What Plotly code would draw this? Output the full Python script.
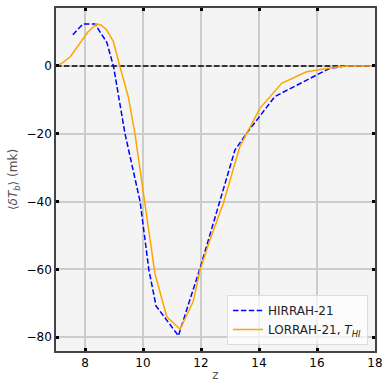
import plotly.graph_objects as go

hir_z = [7.58, 7.93, 8.34, 8.75, 8.98, 9.38, 9.9, 10.2, 10.45, 11.22, 11.97, 12.66, 13.17, 13.57, 14.55, 15.99, 16.45, 17.0, 18.0]
hir_t = [9.2, 12.4, 12.4, 7.0, 0.0, -20.0, -40.0, -60.0, -70.8, -79.6, -59.6, -39.5, -24.8, -19.9, -9.0, -2.65, -0.7, 0.0, 0.0]

lor_z = [7.0, 7.2, 7.5, 7.8, 8.1, 8.4, 8.55, 8.75, 8.98, 9.2, 9.49, 9.72, 10.0, 10.41, 10.82, 11.28, 11.73, 11.97, 12.31, 12.77, 13.34, 14.03, 14.78, 15.64, 16.5, 17.0, 18.0]
lor_t = [0.0, 0.8, 2.8, 6.3, 10.0, 12.4, 12.1, 10.6, 7.2, 0.0, -9.0, -19.9, -37.0, -61.2, -74.0, -77.7, -69.5, -60.2, -51.3, -40.5, -23.8, -12.5, -5.1, -1.7, -0.5, 0.0, 0.0]

x_ticks = [8, 10, 12, 14, 16, 18]
y_ticks = [0, -20, -40, -60, -80]

fig = go.Figure()
fig.add_trace(go.Scatter(x=[7, 18], y=[0, 0], mode="lines",
                         line=dict(color="black", width=1.5, dash="5.5px,2.4px"),
                         showlegend=False, hoverinfo="skip"))
fig.add_trace(go.Scatter(x=hir_z, y=hir_t, mode="lines", name="HIRRAH-21",
                         line=dict(color="blue", width=1.5, dash="5.5px,2.4px")))
fig.add_trace(go.Scatter(x=lor_z, y=lor_t, mode="lines", name="LORRAH-21, <i>T<sub>HI</sub></i>",
                         line=dict(color="orange", width=1.5)))

axis_common = dict(
    showgrid=True, gridcolor="#cccccc", gridwidth=1.5,
    zeroline=False, showline=True, linecolor="#444444", linewidth=1.5,
    mirror="ticks", ticks="inside", ticklen=3, tickwidth=3, tickcolor="black",
    tickfont=dict(family="DejaVu Sans", size=12, color="black"),
    automargin=False, ticklabeloverflow="allow",
)

fig.update_layout(
    width=382, height=382,
    margin=dict(l=56, r=7, t=8, b=31),
    paper_bgcolor="white", plot_bgcolor="#f4f4f4",
    font=dict(family="DejaVu Sans", size=12, color="#555555"),
    xaxis=dict(range=[7, 18], tickvals=x_ticks,
               title=dict(text="z", standoff=4, font=dict(size=12, color="#555555")), **axis_common),
    yaxis=dict(range=[-84.1, 17.1], tickvals=y_ticks,
               title=dict(text="⟨<i>δT</i><sub><i>b</i></sub>⟩ (mk)", standoff=6,
                          font=dict(size=12, color="#555555")),
               **axis_common),
    legend=dict(x=0.978, y=0.0175, xanchor="right", yanchor="bottom",
                bgcolor="rgba(255,255,255,0.7)", bordercolor="#dddddd", borderwidth=1,
                font=dict(family="DejaVu Sans", size=12, color="#222222"),
                itemwidth=30, tracegroupgap=0),
)

fig.write_html("out.html")
